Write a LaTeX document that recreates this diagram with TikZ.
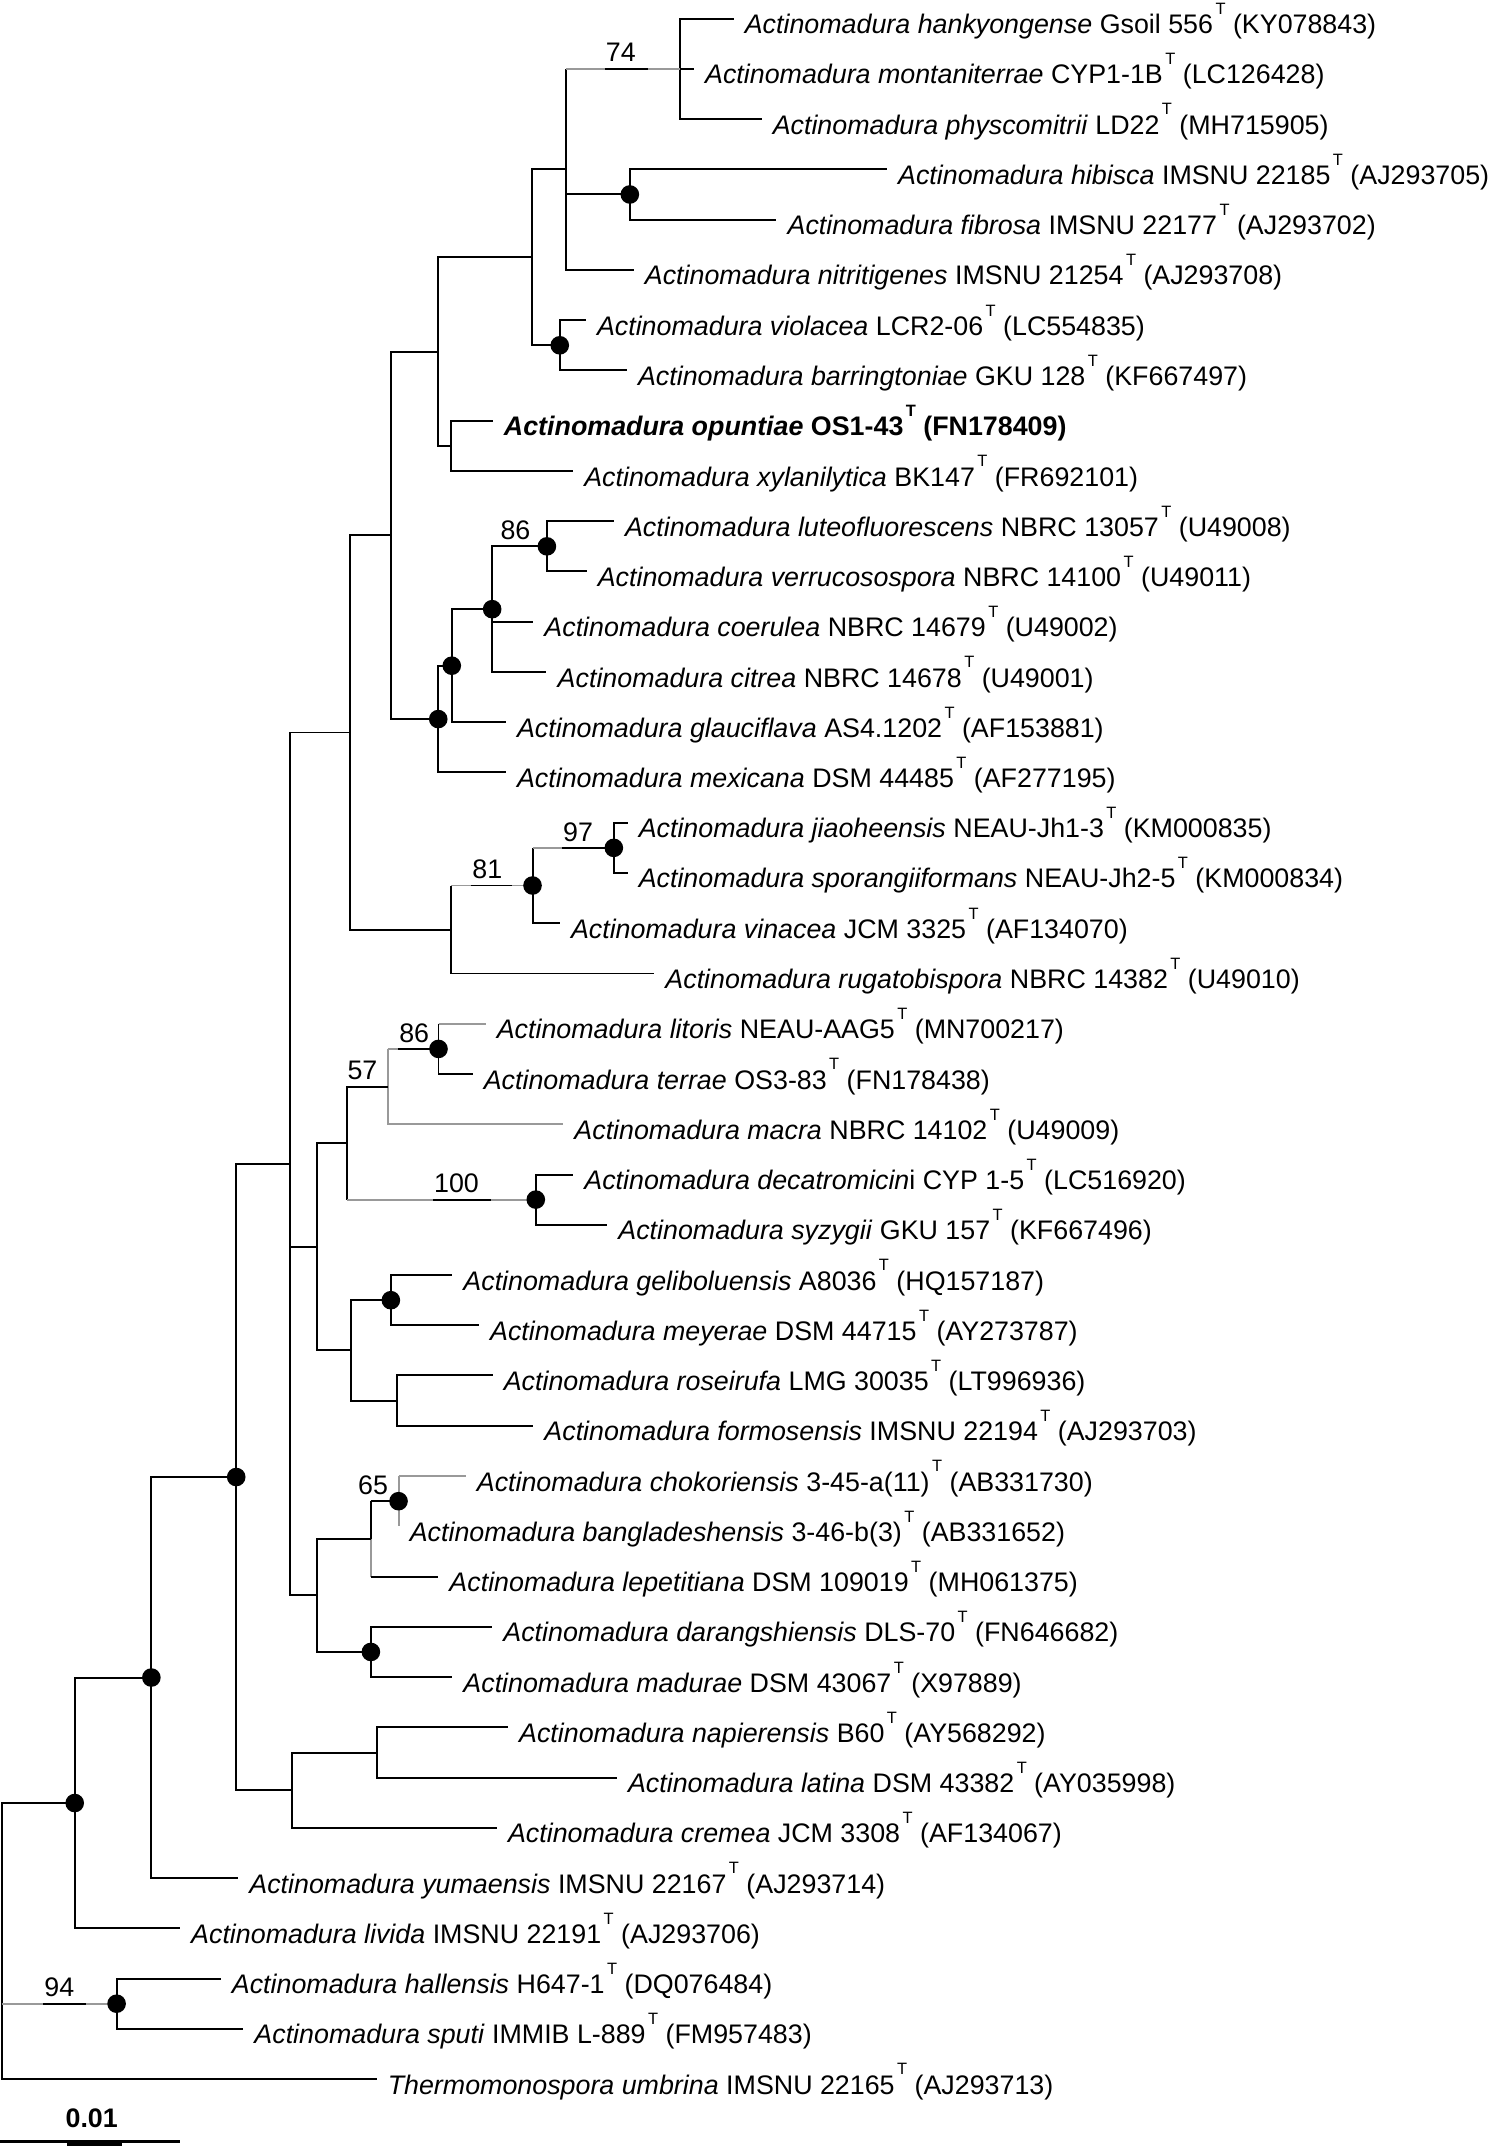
\documentclass[tikz,border=0pt]{standalone}
\usepackage{fontspec}
\setmainfont{Liberation Sans}
\usetikzlibrary{calc}
\newcommand{\tsup}{\kern0.9pt\raisebox{7pt}{\fontsize{6}{6}\selectfont T}}

\begin{document}
\begin{tikzpicture}[x=0.5pt, y=-0.5pt, line width=0.72pt,
  faint/.style={draw=black!40},
  taxon/.style={anchor=base west, inner sep=0pt, xshift=3.75pt, yshift=-5.5pt, font=\fontsize{9.8}{11}\selectfont},
  boot/.style={anchor=base west, inner sep=0pt, font=\fontsize{9.8}{11}\selectfont},
  hub/.style={circle, fill=black, inner sep=0pt, minimum size=6.8pt}]
\useasboundingbox (0,0) rectangle (1092.3,1568);
% tips
\coordinate (t1) at (536,13.6);
\coordinate (t2) at (507,50.3);
\coordinate (t3) at (556.4,87.0);
\coordinate (t4) at (648,123.8);
\coordinate (t5) at (567.3,160.5);
\coordinate (t6) at (463,197.2);
\coordinate (t7) at (428,233.9);
\coordinate (t8) at (458,270.6);
\coordinate (t9) at (360,307.4);
\coordinate (t10) at (418.7,344.1);
\coordinate (t11) at (448.5,380.8);
\coordinate (t12) at (428.6,417.5);
\coordinate (t13) at (389.6,454.2);
\coordinate (t14) at (399.3,491.0);
\coordinate (t15) at (369.6,527.7);
\coordinate (t16) at (369.6,564.4);
\coordinate (t17) at (458.5,601.1);
\coordinate (t18) at (458.5,637.8);
\coordinate (t19) at (409,674.6);
\coordinate (t20) at (478,711.3);
\coordinate (t21) at (354.8,748.0);
\coordinate (t22) at (345.3,784.7);
\coordinate (t23) at (411.5,821.4);
\coordinate (t24) at (418.8,858.2);
\coordinate (t25) at (443.6,894.9);
\coordinate (t26) at (330.4,931.6);
\coordinate (t27) at (349.9,968.3);
\coordinate (t28) at (359.9,1005.0);
\coordinate (t29) at (389.6,1041.8);
\coordinate (t30) at (340.2,1078.5);
\coordinate (t31) at (291.2,1115.2);
\coordinate (t32) at (320.2,1151.9);
\coordinate (t33) at (359.6,1188.6);
\coordinate (t34) at (330.4,1225.4);
\coordinate (t35) at (371.1,1262.1);
\coordinate (t36) at (450.7,1298.8);
\coordinate (t37) at (363,1335.5);
\coordinate (t38) at (174,1372.2);
\coordinate (t39) at (131.5,1409.0);
\coordinate (t40) at (161.2,1445.7);
\coordinate (t41) at (177.7,1482.4);
\coordinate (t42) at (275.1,1519.1);
% internal nodes
\coordinate (n74) at (497,50.3);
\coordinate (nHib) at (460.2,142.1);
\coordinate (nNit) at (413.5,123.8);
\coordinate (nVio) at (409,252.3);
\coordinate (nTop) at (389,188.0);
\coordinate (nOpu) at (329.6,325.7);
\coordinate (nA1) at (320.2,256.9);
\coordinate (n86a) at (399.6,399.2);
\coordinate (nCoe) at (359.6,445.1);
\coordinate (nGla) at (330.1,486.4);
\coordinate (nMex) at (320.2,525.4);
\coordinate (nA2) at (285.5,391.2);
\coordinate (n97) at (448.5,619.5);
\coordinate (n81) at (389.1,647.0);
\coordinate (nRug) at (329.6,679.2);
\coordinate (nA3) at (256,535.2);
\coordinate (n86b) at (320.4,766.4);
\coordinate (n57) at (283.2,793.9);
\coordinate (n100) at (391.5,876.5);
\coordinate (nB1) at (253.7,835.2);
\coordinate (nGel) at (285.6,950);
\coordinate (nRos) at (290.2,1023.4);
\coordinate (nB2) at (256.2,986.7);
\coordinate (nB) at (231.4,910.9);
\coordinate (n65) at (291.2,1096.85);
\coordinate (nLep) at (270.8,1124.4);
\coordinate (nDar) at (271,1207);
\coordinate (nC) at (231.4,1165.7);
\coordinate (nD) at (211.8,850.4);
\coordinate (nNap) at (275.6,1280.5);
\coordinate (nE) at (213.6,1308);
\coordinate (nF) at (172.6,1079.2);
\coordinate (nG) at (110.6,1225.7);
\coordinate (nH) at (54.6,1317.4);
\coordinate (n94) at (85.2,1464);
\coordinate (root) at (1.2,1418.3);
% branches
\draw (n74) |- (t1) (n74) |- (t2) (n74) |- (t3);
\draw (nHib) |- (t4) (nHib) |- (t5);
\draw (nNit |- n74) |- (t6) (nNit) |- (nHib);
\draw[faint] (nNit |- n74) -- (n74);
\draw (nVio) |- (t7) (nVio) |- (t8);
\draw (nTop) |- (nNit) (nTop) |- (nVio);
\draw (nOpu) |- (t9) (nOpu) |- (t10);
\draw (nA1) |- (nTop) (nA1) |- (nOpu);
\draw (n86a) |- (t11) (n86a) |- (t12);
\draw (nCoe) |- (n86a) (nCoe) |- (t13) (nCoe) |- (t14);
\draw (nGla) |- (nCoe) (nGla) |- (t15);
\draw (nMex) |- (nGla) (nMex) |- (t16);
\draw (nA2) |- (nA1) (nA2) |- (nMex);
\draw (n97) |- (t17) (n97) |- (t18);
\draw (n81 |- n97) |- (t19);
\draw[faint] (n81 |- n97) -- (n97);
\draw (nRug |- n81) |- (t20);
\draw[faint] (nRug |- n81) -- (n81);
\draw (nA3) |- (nA2) (nA3) |- (nRug);
\draw (n86b |- t21) |- (t22);
\draw[faint] (n86b |- t21) -- (t21);
\draw[faint] (n57 |- n86b) |- (t23);
\draw[faint] (n57 |- n86b) -- (n86b);
\draw (n100) |- (t24) (n100) |- (t25);
\draw (n57) -| (nB1 |- n100);
\draw[faint] (nB1 |- n100) -- (n100);
\draw (nGel) |- (t26) (nGel) |- (t27);
\draw (nRos) |- (t28) (nRos) |- (t29);
\draw (nB2) |- (nGel) (nB2) |- (nRos);
\draw (nB) |- (nB1) (nB) |- (nB2);
\draw[faint] (n65 |- t30) -- (t30) (n65 |- t30) -- (t31);
\draw (nLep |- n65) -- (n65) (nLep |- n65) -- (nLep |- nLep);
\draw[faint] (nLep) -- (nLep |- t32);
\draw (nLep |- t32) -- (t32);
\draw (nDar) |- (t33) (nDar) |- (t34);
\draw (nC) |- (nLep) (nC) |- (nDar);
\draw (nD) |- (nA3) (nD) |- (nB) (nD) |- (nC);
\draw (nNap) |- (t35) (nNap) |- (t36);
\draw (nE) |- (nNap) (nE) |- (t37);
\draw (nF) |- (nD) (nF) |- (nE);
\draw (nG) |- (nF) (nG) |- (t38);
\draw (nH) |- (nG) (nH) |- (t39);
\draw (n94) |- (t40) (n94) |- (t41);
\draw (root) |- (nH) (root) |- (t42);
\draw[faint] (root |- n94) -- (n94);
% supported nodes
\node[hub] (dHib) at (nHib) {};
\node[hub] (dVio) at (nVio) {};
\node[hub] (d86a) at (n86a) {};
\node[hub] (dCoe) at (nCoe) {};
\node[hub] (dGla) at (nGla) {};
\node[hub] (dMex) at (nMex) {};
\node[hub] (d97) at (n97) {};
\node[hub] (d81) at (n81) {};
\node[hub] (d86b) at (n86b) {};
\node[hub] (d100) at (n100) {};
\node[hub] (dGel) at (nGel) {};
\node[hub] (d65) at (n65) {};
\node[hub] (dDar) at (nDar) {};
\node[hub] (dF) at (nF) {};
\node[hub] (dG) at (nG) {};
\node[hub] (dH) at (nH) {};
\node[hub] (d94) at (n94) {};
% bootstrap values
\node[boot] (b74) at (442,45.3) {74};
\node[boot] (b86a) at (365,394.2) {86};
\node[boot] (b97) at (410.8,614.5) {97};
\node[boot] (b81) at (344.5,642) {81};
\node[boot] (b86b) at (291,761.4) {86};
\node[boot] (b57) at (253.2,788.9) {57};
\node[boot] (b100) at (316.5,871.5) {100};
\node[boot] (b65) at (261,1091.8) {65};
\node[boot] (b94) at (31.7,1459) {94};
\draw (b74.west |- n74) -- ($(b74.east |- n74)+(8,0)$);
\draw (b97.west |- n97) -- ($(b97.east |- n97)+(8,0)$);
\draw (b81.west |- n81) -- ($(b81.east |- n81)+(6,0)$);
\draw (b86b.west |- n86b) -- ($(b86b.east |- n86b)+(3,0)$);
\draw (b100.west |- n100) -- ($(b100.east |- n100)+(8,0)$);
\draw (b94.west |- n94) -- ($(b94.east |- n94)+(8,0)$);
% taxa
\node[taxon] (l1) at (t1) {\textit{Actinomadura hankyongense} Gsoil 556\tsup{} (KY078843)};
\node[taxon] (l2) at (t2) {\textit{Actinomadura montaniterrae} CYP1-1B\tsup{} (LC126428)};
\node[taxon] (l3) at (t3) {\textit{Actinomadura physcomitrii} LD22\tsup{} (MH715905)};
\node[taxon] (l4) at (t4) {\textit{Actinomadura hibisca} IMSNU 22185\tsup{} (AJ293705)};
\node[taxon] (l5) at (t5) {\textit{Actinomadura fibrosa} IMSNU 22177\tsup{} (AJ293702)};
\node[taxon] (l6) at (t6) {\textit{Actinomadura nitritigenes} IMSNU 21254\tsup{} (AJ293708)};
\node[taxon] (l7) at (t7) {\textit{Actinomadura violacea} LCR2-06\tsup{} (LC554835)};
\node[taxon] (l8) at (t8) {\textit{Actinomadura barringtoniae} GKU 128\tsup{} (KF667497)};
\node[taxon] (l9) at (t9) {\bfseries\textit{Actinomadura opuntiae} OS1-43\tsup{} (FN178409)};
\node[taxon] (l10) at (t10) {\textit{Actinomadura xylanilytica} BK147\tsup{} (FR692101)};
\node[taxon] (l11) at (t11) {\textit{Actinomadura luteofluorescens} NBRC 13057\tsup{} (U49008)};
\node[taxon] (l12) at (t12) {\textit{Actinomadura verrucosospora} NBRC 14100\tsup{} (U49011)};
\node[taxon] (l13) at (t13) {\textit{Actinomadura coerulea} NBRC 14679\tsup{} (U49002)};
\node[taxon] (l14) at (t14) {\textit{Actinomadura citrea} NBRC 14678\tsup{} (U49001)};
\node[taxon] (l15) at (t15) {\textit{Actinomadura glauciflava} AS4.1202\tsup{} (AF153881)};
\node[taxon] (l16) at (t16) {\textit{Actinomadura mexicana} DSM 44485\tsup{} (AF277195)};
\node[taxon] (l17) at (t17) {\textit{Actinomadura jiaoheensis} NEAU-Jh1-3\tsup{} (KM000835)};
\node[taxon] (l18) at (t18) {\textit{Actinomadura sporangiiformans} NEAU-Jh2-5\tsup{} (KM000834)};
\node[taxon] (l19) at (t19) {\textit{Actinomadura vinacea} JCM 3325\tsup{} (AF134070)};
\node[taxon] (l20) at (t20) {\textit{Actinomadura rugatobispora} NBRC 14382\tsup{} (U49010)};
\node[taxon] (l21) at (t21) {\textit{Actinomadura litoris} NEAU-AAG5\tsup{} (MN700217)};
\node[taxon] (l22) at (t22) {\textit{Actinomadura terrae} OS3-83\tsup{} (FN178438)};
\node[taxon] (l23) at (t23) {\textit{Actinomadura macra} NBRC 14102\tsup{} (U49009)};
\node[taxon] (l24) at (t24) {\textit{Actinomadura decatromicin}i CYP 1-5\tsup{} (LC516920)};
\node[taxon] (l25) at (t25) {\textit{Actinomadura syzygii} GKU 157\tsup{} (KF667496)};
\node[taxon] (l26) at (t26) {\textit{Actinomadura geliboluensis} A8036\tsup{} (HQ157187)};
\node[taxon] (l27) at (t27) {\textit{Actinomadura meyerae} DSM 44715\tsup{} (AY273787)};
\node[taxon] (l28) at (t28) {\textit{Actinomadura roseirufa} LMG 30035\tsup{} (LT996936)};
\node[taxon] (l29) at (t29) {\textit{Actinomadura formosensis} IMSNU 22194\tsup{} (AJ293703)};
\node[taxon] (l30) at (t30) {\textit{Actinomadura chokoriensis} 3-45-a(11)\tsup{} (AB331730)};
\node[taxon] (l31) at (t31) {\textit{Actinomadura bangladeshensis} 3-46-b(3)\tsup{} (AB331652)};
\node[taxon] (l32) at (t32) {\textit{Actinomadura lepetitiana} DSM 109019\tsup{} (MH061375)};
\node[taxon] (l33) at (t33) {\textit{Actinomadura darangshiensis} DLS-70\tsup{} (FN646682)};
\node[taxon] (l34) at (t34) {\textit{Actinomadura madurae} DSM 43067\tsup{} (X97889)};
\node[taxon] (l35) at (t35) {\textit{Actinomadura napierensis} B60\tsup{} (AY568292)};
\node[taxon] (l36) at (t36) {\textit{Actinomadura latina} DSM 43382\tsup{} (AY035998)};
\node[taxon] (l37) at (t37) {\textit{Actinomadura cremea} JCM 3308\tsup{} (AF134067)};
\node[taxon] (l38) at (t38) {\textit{Actinomadura yumaensis} IMSNU 22167\tsup{} (AJ293714)};
\node[taxon] (l39) at (t39) {\textit{Actinomadura livida} IMSNU 22191\tsup{} (AJ293706)};
\node[taxon] (l40) at (t40) {\textit{Actinomadura hallensis} H647-1\tsup{} (DQ076484)};
\node[taxon] (l41) at (t41) {\textit{Actinomadura sputi} IMMIB L-889\tsup{} (FM957483)};
\node[taxon] (l42) at (t42) {\textit{Thermomonospora umbrina} IMSNU 22165\tsup{} (AJ293713)};
% scale bar
\node[anchor=base, inner sep=0pt, font=\fontsize{9.8}{11}\selectfont\bfseries] (scl) at (67,1554.6) {0.01};
\coordinate (s0) at (0,1564.4);
\coordinate (s1) at (131.5,1564.4);
\draw[line width=1.1pt] (s0) -- (s1);
\fill (48.7,1564.4) rectangle (88.9,1570);
\end{tikzpicture}
\end{document}
